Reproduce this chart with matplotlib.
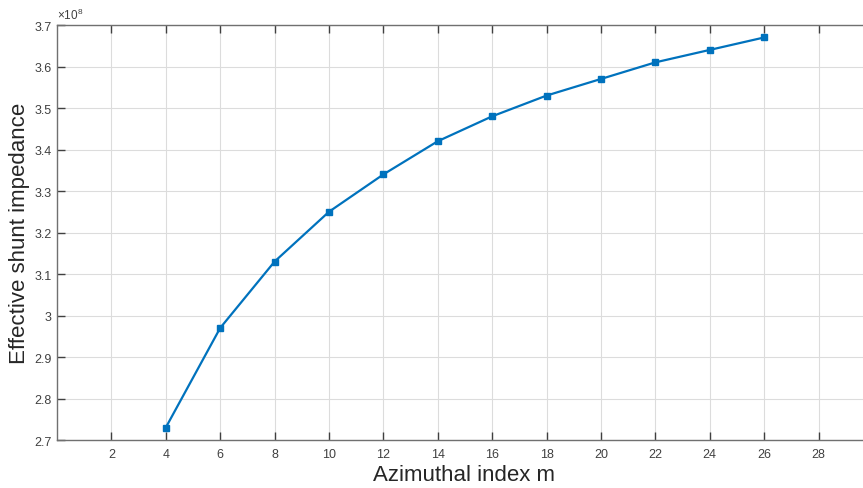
import matplotlib
matplotlib.use("Agg")
import matplotlib.pyplot as plt
from matplotlib.ticker import FuncFormatter, MultipleLocator

m_index = [4, 6, 8, 10, 12, 14, 16, 18, 20, 22, 24, 26]
shunt_impedance = [2.73e8, 2.97e8, 3.13e8, 3.25e8, 3.34e8, 3.42e8,
                   3.48e8, 3.53e8, 3.57e8, 3.61e8, 3.64e8, 3.67e8]
x_ticks = list(range(2, 29, 2))

plt.rcParams['font.family'] = ['Liberation Sans', 'DejaVu Sans']
plt.rcParams['mathtext.fontset'] = 'custom'
plt.rcParams['mathtext.rm'] = 'Liberation Sans'
fig = plt.figure(figsize=(8.63, 4.89), dpi=100)
W, H = 863, 489
left, right, top, bottom = 57, 873, 26, 441
ax = fig.add_axes([left / W, 1 - bottom / H, (right - left) / W, (bottom - top) / H])

ax.plot(m_index, shunt_impedance, '-s', color='#0072BD', lw=1.6,
        markersize=5, markerfacecolor='#0072BD', markeredgecolor='#0072BD')

ax.set_xlim(0, 30)
ax.set_ylim(2.7e8, 3.7e8)
ax.set_xticks(x_ticks)
ax.yaxis.set_major_locator(MultipleLocator(0.1e8))
ax.yaxis.set_major_formatter(FuncFormatter(lambda v, p: f'{round(v / 1e8, 3):g}'))
ax.text(0.0, 1.008, r'$\times\mathregular{10^{8}}$', transform=ax.transAxes,
        fontsize=8.5, color='#404040', ha='left', va='bottom')

ax.grid(True, color='#dcdcdc', lw=0.8)
ax.set_axisbelow(True)
for s in ['left', 'bottom', 'top']:
    ax.spines[s].set_color('#707070')
    ax.spines[s].set_linewidth(1.0)
ax.spines['right'].set_visible(False)
ax.tick_params(direction='in', length=6, width=1, colors='#404040',
               labelsize=9, top=True, labelcolor='#404040')
ax.tick_params(axis='y', pad=4)
ax.tick_params(axis='x', pad=6)

ax.set_xlabel('Azimuthal index m', fontsize=16, color='#262626', va='center')
ax.set_ylabel('Effective shunt impedance', fontsize=16, color='#262626', va='center')
ax.xaxis.set_label_coords((464 - left) / (right - left), (bottom - 476) / (bottom - top))
ax.yaxis.set_label_coords((20 - left) / (right - left), 0.5)

fig.savefig('out.png', dpi=100)
